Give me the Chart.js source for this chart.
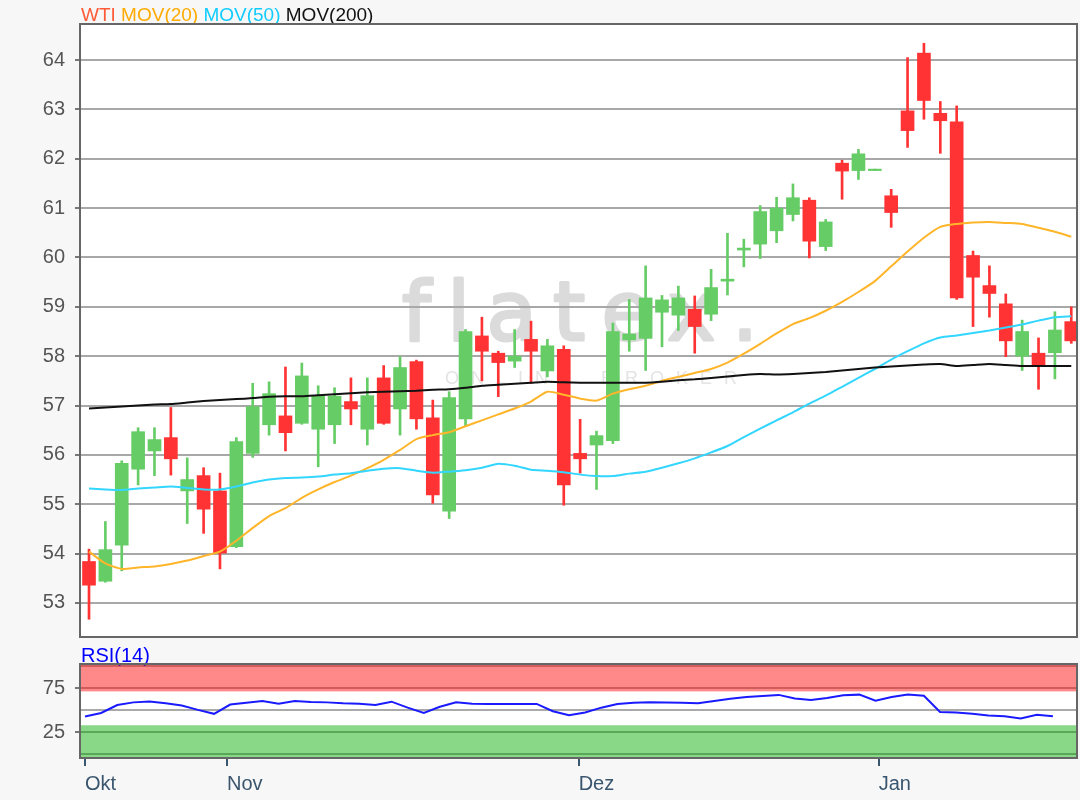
<!DOCTYPE html>
<html>
<head>
<meta charset="utf-8">
<script src="https://cdn.jsdelivr.net/npm/chart.js@4.4.1/dist/chart.umd.min.js"></script>
<style>
  html, body { margin: 0; padding: 0; background: #f7f7f7; }
  #wrap { position: relative; width: 1080px; height: 800px; }
  #main { position: absolute; left: 0; top: 0; width: 1080px; height: 660px; }
  #rsi  { position: absolute; left: 0; top: 640px; width: 1080px; height: 160px; }
</style>
</head>
<body>
<div id="wrap">
  <div id="main"><canvas id="priceChart"></canvas></div>
  <div id="rsi"><canvas id="rsiChart"></canvas></div>
</div>
<script>
// WTI daily candles, mid Oct -> mid Jan
var opens  = [53.84,53.44,54.17,55.71,56.08,56.35,55.27,55.58,55.27,54.14,56.03,56.61,56.79,56.64,56.52,56.61,57.08,56.52,57.56,56.93,
              57.89,56.75,54.86,56.73,58.41,58.06,57.90,58.34,57.70,58.14,56.03,56.20,56.29,58.33,58.36,58.89,58.83,58.95,58.85,59.52,
              60.15,60.27,60.54,60.87,61.16,60.22,61.91,61.76,61.76,61.25,62.97,64.14,62.92,62.75,60.04,59.43,59.06,58.00,58.06,58.07,58.70];
var highs  = [54.09,54.65,55.88,56.55,56.55,56.96,55.94,55.74,55.63,56.35,57.45,57.48,57.78,57.86,57.40,57.36,57.56,57.56,57.81,57.99,
              57.92,57.11,57.28,58.54,58.79,58.10,58.54,58.71,58.34,58.21,56.72,56.48,58.67,59.15,59.83,59.23,59.42,59.22,59.76,60.49,
              60.37,61.05,61.22,61.49,61.21,60.77,61.97,62.19,61.79,61.38,64.05,64.34,63.16,63.07,60.13,59.83,59.26,58.73,58.37,58.90,59.00];
var lows   = [52.67,53.42,53.65,55.39,55.58,55.59,54.61,54.41,53.69,54.12,55.95,56.40,56.08,56.62,55.76,56.23,56.61,56.20,56.62,56.40,
              56.52,55.02,54.71,56.59,57.50,57.18,57.77,57.45,57.58,54.98,55.63,55.30,56.23,58.10,57.71,58.19,58.52,58.06,58.72,59.24,
              59.81,59.98,60.30,60.74,59.99,60.14,61.18,61.58,61.76,60.61,62.23,62.80,62.11,59.15,58.60,58.79,57.99,57.71,57.33,57.54,58.26];
var closes = [53.36,54.08,55.83,56.47,56.31,55.92,55.50,54.90,54.01,56.27,56.98,57.24,56.45,57.60,57.19,57.19,56.93,57.20,56.64,57.77,
              56.73,55.19,57.16,58.50,58.10,57.87,58.00,58.10,58.21,55.39,55.92,56.39,58.50,58.45,59.18,59.14,59.18,58.60,59.39,59.56,
              60.19,60.93,61.00,61.21,60.33,60.72,61.75,62.10,61.79,60.91,62.57,63.18,62.77,59.18,59.60,59.27,58.31,58.50,57.80,58.53,58.31];

var mov20  = [54.04,53.80,53.69,53.72,53.74,53.79,53.86,53.95,54.04,54.26,54.52,54.76,54.92,55.13,55.30,55.45,55.58,55.73,55.90,56.10,
              56.32,56.40,56.46,56.58,56.70,56.82,56.94,57.08,57.28,57.22,57.14,57.10,57.24,57.33,57.40,57.50,57.58,57.66,57.74,57.87,
              58.05,58.25,58.46,58.65,58.77,58.92,59.10,59.30,59.52,59.82,60.12,60.40,60.62,60.68,60.71,60.72,60.70,60.68,60.60,60.52,60.42];
var mov50  = [55.32,55.30,55.29,55.32,55.34,55.36,55.33,55.30,55.30,55.36,55.44,55.50,55.53,55.54,55.56,55.60,55.63,55.68,55.72,55.73,
              55.68,55.64,55.66,55.69,55.74,55.82,55.78,55.70,55.68,55.65,55.60,55.57,55.57,55.62,55.66,55.74,55.83,55.93,56.05,56.18,
              56.36,56.53,56.70,56.86,57.04,57.20,57.38,57.56,57.74,57.93,58.10,58.26,58.38,58.42,58.47,58.52,58.58,58.64,58.72,58.79,58.81];
var mov200 = [56.94,56.96,56.98,57.00,57.02,57.03,57.06,57.09,57.11,57.13,57.15,57.18,57.19,57.19,57.21,57.23,57.25,57.27,57.28,57.29,
              57.30,57.32,57.33,57.36,57.40,57.42,57.44,57.46,57.48,57.47,57.46,57.46,57.46,57.46,57.46,57.48,57.51,57.53,57.56,57.59,
              57.62,57.64,57.63,57.64,57.66,57.68,57.71,57.74,57.77,57.79,57.81,57.83,57.84,57.80,57.82,57.84,57.82,57.80,57.80,57.80,57.80];

var rsi14  = [43.0,47.0,56.0,59.0,60.0,58.0,55.5,50.5,46.0,56.5,58.5,60.5,57.5,60.5,59.5,59.0,58.0,57.5,56.0,59.8,
              53.0,47.0,54.0,59.0,57.5,57.2,57.2,57.2,57.2,49.0,44.5,47.5,53.0,57.2,58.5,59.0,58.8,58.5,58.0,60.5,
              63.0,65.0,66.3,67.5,63.5,61.7,64.0,67.2,67.8,61.0,65.0,68.0,66.5,48.0,47.5,46.2,44.0,43.2,40.8,45.0,43.1];

var priceTicks  = [53,54,55,56,57,58,59,60,61,62,63,64];
var rsiTicks    = [0,25,50,75,100];
var rsiLabelled = [25,75];
var monthLabels = ['Okt','Nov','Dez','Jan'];
var monthPos    = [0,8.8,30.6,49.2];

var legendItems = [['WTI','#ff5a36'],['MOV(20)','#ffaa00'],['MOV(50)','#11ccff'],['MOV(200)','#111111']];

Chart.defaults.font.family = '"Liberation Sans", Arial, sans-serif';
Chart.defaults.animation = false;

function pts(arr) {
    return arr.map(function (v, i) { return { x: i, y: v }; });
}
var candleColors = closes.map(function (c, i) { return c >= opens[i] ? '#66cc66' : '#ff3333'; });

//***********************************************************************************
// Price chart
//***********************************************************************************
var priceBg = {
    id: 'priceBg',
    beforeDraw: function (chart) {
        var ctx = chart.ctx, a = chart.chartArea;
        ctx.save();
        ctx.fillStyle = '#f7f7f7';
        ctx.fillRect(0, 0, chart.width, chart.height);
        ctx.fillStyle = '#ffffff';
        ctx.fillRect(a.left, a.top, a.right - a.left, a.bottom - a.top);

        // watermark
        ctx.fillStyle = '#dbdbdb';
        ctx.strokeStyle = '#dbdbdb';
        ctx.lineWidth = 3;
        ctx.lineJoin = 'round';
        ctx.textBaseline = 'alphabetic';
        ctx.font = '82px "DejaVu Sans", sans-serif';
        ctx.letterSpacing = '0px';
        var w0 = ctx.measureText('flatex.').width;
        ctx.letterSpacing = ((356 - w0) / 6) + 'px';
        ctx.fillText('flatex.', 402, 340);
        ctx.strokeText('flatex.', 402, 340);
        ctx.fillStyle = '#e4e4e4';
        ctx.font = '18px "Liberation Sans", Arial, sans-serif';
        ctx.letterSpacing = '0px';
        var w1 = ctx.measureText('ONLINE BROKER').width;
        ctx.letterSpacing = ((292 - w1) / 12) + 'px';
        ctx.fillText('ONLINE BROKER', 445, 384);
        ctx.letterSpacing = '0px';

        // legend
        ctx.font = '19px "Liberation Sans", Arial, sans-serif';
        var x = 81;
        legendItems.forEach(function (it) {
            ctx.fillStyle = it[1];
            ctx.fillText(it[0], x, 21);
            x += ctx.measureText(it[0] + ' ').width;
        });
        ctx.restore();
    },
    afterDraw: function (chart) {
        var ctx = chart.ctx, a = chart.chartArea;
        ctx.save();
        ctx.strokeStyle = '#666666';
        ctx.lineWidth = 2;
        ctx.strokeRect(a.left, a.top, a.right - a.left, a.bottom - a.top);
        ctx.restore();
    }
};

var priceCtx = document.getElementById('priceChart').getContext('2d');
var priceChart = new Chart(priceCtx, {
    type: 'bar',
    data: {
        datasets: [
            {
                label: 'wick',
                data: lows.map(function (l, i) { return { x: i, y: [l, highs[i]] }; }),
                backgroundColor: candleColors,
                barThickness: 2,
                grouped: false,
                order: 3
            },
            {
                label: 'body',
                data: opens.map(function (o, i) { return { x: i, y: [o, closes[i]] }; }),
                backgroundColor: candleColors,
                barThickness: 13,
                grouped: false,
                order: 2
            },
            { type: 'line', label: 'MOV(200)', data: pts(mov200), borderColor: '#111111', borderWidth: 2, pointRadius: 0, tension: 0.2, order: 1 },
            { type: 'line', label: 'MOV(50)',  data: pts(mov50),  borderColor: '#33d6ff', borderWidth: 2, pointRadius: 0, tension: 0.2, order: 1 },
            { type: 'line', label: 'MOV(20)',  data: pts(mov20),  borderColor: '#ffb52a', borderWidth: 2, pointRadius: 0, tension: 0.2, order: 1 }
        ]
    },
    options: {
        responsive: true,
        maintainAspectRatio: false,
        layout: { padding: { left: 0, right: 3, top: 24, bottom: 23 } },
        plugins: { legend: { display: false }, tooltip: { enabled: false } },
        scales: {
            x: { type: 'linear', min: -0.55, max: 60.35, offset: false, display: false },
            y: {
                min: 52.31, max: 64.73,
                afterBuildTicks: function (s) { s.ticks = priceTicks.map(function (v) { return { value: v }; }); },
                afterFit: function (s) { s.width = 80; },
                border: { display: false },
                grid: { color: '#a8a8a8', lineWidth: 2, tickLength: 5, tickColor: '#777777' },
                ticks: { color: '#555555', padding: 10, autoSkip: false, font: { size: 20 } }
            }
        }
    },
    plugins: [priceBg]
});

//***********************************************************************************
// RSI chart
//***********************************************************************************
var rsiBg = {
    id: 'rsiBg',
    beforeDraw: function (chart) {
        var ctx = chart.ctx, a = chart.chartArea, y = chart.scales.y;
        ctx.save();
        ctx.fillStyle = '#f7f7f7';
        ctx.fillRect(0, 0, chart.width, chart.height);
        ctx.fillStyle = '#ffffff';
        ctx.fillRect(a.left, a.top, a.right - a.left, a.bottom - a.top);
        var yRed = y.getPixelForValue(71.5), yGreen = y.getPixelForValue(33);
        ctx.fillStyle = '#ff8888';
        ctx.fillRect(a.left, a.top, a.right - a.left, yRed - a.top);
        ctx.fillStyle = '#88d888';
        ctx.fillRect(a.left, yGreen, a.right - a.left, a.bottom - yGreen);

        ctx.fillStyle = '#0000ff';
        ctx.font = '20px "Liberation Sans", Arial, sans-serif';
        ctx.textBaseline = 'alphabetic';
        ctx.fillText('RSI(14)', 81, 22);
        ctx.restore();
    },
    afterDraw: function (chart) {
        var ctx = chart.ctx, a = chart.chartArea;
        ctx.save();
        ctx.strokeStyle = '#666666';
        ctx.lineWidth = 2;
        ctx.strokeRect(a.left, a.top, a.right - a.left, a.bottom - a.top);
        ctx.restore();
    }
};

var rsiCtx = document.getElementById('rsiChart').getContext('2d');
var rsiChart = new Chart(rsiCtx, {
    type: 'line',
    data: {
        datasets: [{
            label: 'RSI(14)',
            data: pts(rsi14),
            borderColor: '#1a1aff',
            borderWidth: 2,
            pointRadius: 0,
            tension: 0
        }]
    },
    options: {
        responsive: true,
        maintainAspectRatio: false,
        layout: { padding: { left: 0, right: 3, top: 24, bottom: 0 } },
        plugins: { legend: { display: false }, tooltip: { enabled: false } },
        scales: {
            x: {
                type: 'linear', min: -0.31, max: 61.49, offset: false,
                afterBuildTicks: function (s) { s.ticks = monthPos.map(function (v) { return { value: v }; }); },
                afterFit: function (s) { s.height = 42; },
                border: { display: false },
                grid: { drawOnChartArea: false, tickLength: 8, tickColor: '#3a566e', lineWidth: 2 },
                ticks: {
                    callback: function (v, i) { return monthLabels[i]; },
                    align: 'start', color: '#3a566e', padding: 6, maxRotation: 0, autoSkip: false,
                    font: { size: 20 }
                }
            },
            y: {
                min: -4.2, max: 102.6,
                afterBuildTicks: function (s) { s.ticks = rsiTicks.map(function (v) { return { value: v }; }); },
                afterFit: function (s) { s.width = 80; },
                border: { display: false },
                grid: {
                    lineWidth: 2, tickLength: 5,
                    color: function (c) {
                        var v = c.tick ? c.tick.value : 50;
                        if (v > 60) return 'rgba(150,40,40,0.45)';
                        if (v < 40) return 'rgba(30,110,30,0.45)';
                        return '#aaaaaa';
                    },
                    tickColor: function (c) {
                        return (c.tick && rsiLabelled.indexOf(c.tick.value) >= 0) ? '#777777' : 'rgba(0,0,0,0)';
                    }
                },
                ticks: {
                    color: '#555555', padding: 10, autoSkip: false, font: { size: 20 },
                    callback: function (v) { return rsiLabelled.indexOf(v) >= 0 ? String(v) : ''; }
                }
            }
        }
    },
    plugins: [rsiBg]
});
</script>
</body>
</html>
